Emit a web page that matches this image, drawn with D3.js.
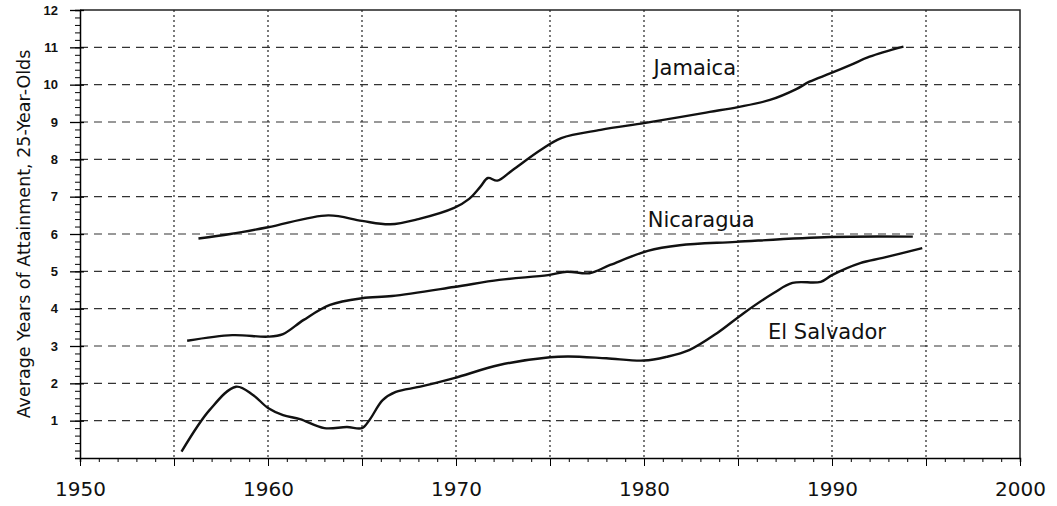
<!DOCTYPE html>
<html lang="en">
<head>
<meta charset="UTF-8">
<script src="https://d3js.org/d3.v7.min.js"></script>
<title>Years of attainment</title>
<style>
  body { margin: 0; background: #fff; }
  .ylab { font: bold 13px "Liberation Sans Narrow", "Liberation Sans", sans-serif; }
  .xlab { font: 20px "DejaVu Sans", sans-serif; }
  .series { font: 21px "DejaVu Sans", sans-serif; }
  .ytitle { font: 17.5px "DejaVu Sans", sans-serif; }
</style>
</head>
<body>
<script>
  var width = 1057, height = 506;

  // tick values
  var yearTicks = [1950, 1960, 1970, 1980, 1990, 2000];
  var gridYears = [1955, 1960, 1965, 1970, 1975, 1980, 1985, 1990, 1995];
  var valueTicks = [1, 2, 3, 4, 5, 6, 7, 8, 9, 10, 11, 12];

  // series
  var jamaicaYears = [1956.3, 1958, 1960, 1963.2, 1965, 1966.5, 1968, 1969.9, 1970.7, 1971.3, 1971.7, 1972.2, 1973, 1974.5, 1975.6, 1977.7, 1980, 1981.9, 1983.5, 1985, 1986.7, 1988.1, 1988.8, 1989.9, 1991, 1992, 1993.8];
  var jamaicaValues = [5.88, 6.0, 6.18, 6.5, 6.35, 6.26, 6.4, 6.7, 6.94, 7.27, 7.5, 7.43, 7.71, 8.25, 8.57, 8.79, 8.97, 9.13, 9.27, 9.4, 9.59, 9.88, 10.08, 10.3, 10.53, 10.75, 11.02];

  var nicaraguaYears = [1955.7, 1958.1, 1960, 1960.8, 1961.9, 1963.3, 1965, 1966.6, 1969.9, 1972.3, 1974.9, 1975.9, 1977.1, 1978.2, 1980.2, 1981.9, 1984.9, 1989.9, 1994.3];
  var nicaraguaValues = [3.14, 3.29, 3.25, 3.32, 3.7, 4.1, 4.28, 4.34, 4.58, 4.77, 4.9, 4.99, 4.95, 5.17, 5.55, 5.7, 5.79, 5.92, 5.93];

  var salvadorYears = [1955.4, 1956.9, 1958.3, 1959.2, 1960, 1960.8, 1961.7, 1963, 1964.2, 1965, 1965.4, 1966.1, 1966.8, 1968.1, 1969.9, 1972.3, 1975, 1976, 1978, 1980, 1981.2, 1982.4, 1983.9, 1985.3, 1986.9, 1987.9, 1989.4, 1990, 1991.5, 1992.7, 1994.8];
  var salvadorValues = [0.17, 1.29, 1.91, 1.69, 1.34, 1.15, 1.04, 0.8, 0.83, 0.8, 1.02, 1.55, 1.77, 1.91, 2.14, 2.49, 2.7, 2.72, 2.67, 2.61, 2.71, 2.89, 3.35, 3.88, 4.42, 4.69, 4.72, 4.9, 5.22, 5.36, 5.62];

  var seriesNames = ["Jamaica", "Nicaragua", "El Salvador"];
  var labelAt = [[1980.5, 10.26], [1980.2, 6.19], [1986.6, 3.19]];

  var series = [
    d3.zip(jamaicaYears, jamaicaValues),
    d3.zip(nicaraguaYears, nicaraguaValues),
    d3.zip(salvadorYears, salvadorValues)
  ];

  var x = d3.scaleLinear().domain([1950, 2000]).range([80, 1020]);
  var y = d3.scaleLinear().domain([0, 12]).range([458, 10]);

  var svg = d3.select("body").append("svg")
    .attr("width", width)
    .attr("height", height);

  // horizontal dashed grid
  svg.append("g").selectAll("line")
    .data(valueTicks.filter(function (v) { return v < 12; }))
    .enter().append("line")
    .attr("x1", x(1950)).attr("x2", x(2000))
    .attr("y1", function (d) { return y(d); })
    .attr("y2", function (d) { return y(d); })
    .attr("stroke", "#333").attr("stroke-width", 1.2)
    .attr("stroke-dasharray", "8,6");

  // vertical dotted grid
  svg.append("g").selectAll("line")
    .data(gridYears)
    .enter().append("line")
    .attr("x1", function (d) { return x(d); })
    .attr("x2", function (d) { return x(d); })
    .attr("y1", y(12)).attr("y2", y(0))
    .attr("stroke", "#222").attr("stroke-width", 1.2)
    .attr("stroke-dasharray", "2,3");

  // frame (top and right)
  svg.append("path")
    .attr("d", "M" + x(1950) + "," + y(12) + "H" + x(2000) + "V" + y(0))
    .attr("fill", "none").attr("stroke", "#222").attr("stroke-width", 1.5);

  // y axis with minor ticks
  svg.append("g")
    .attr("transform", "translate(" + x(1950) + ",0)")
    .call(d3.axisLeft(y).tickValues(d3.range(0, 12.01, 0.2)).tickSize(5).tickFormat(""))
    .call(function (g) { g.select(".domain").attr("stroke-width", 1.5); });
  svg.append("g")
    .attr("transform", "translate(" + (x(1950) + 4) + ",0)")
    .call(d3.axisLeft(y).tickValues(valueTicks).tickSize(14).tickPadding(12))
    .call(function (g) {
      g.select(".domain").remove();
      g.selectAll("text").attr("class", "ylab").attr("fill", "#111");
      g.selectAll("line").attr("stroke-width", 1.3);
    });

  // x axis with minor ticks
  svg.append("g")
    .attr("transform", "translate(0," + y(0) + ")")
    .call(d3.axisBottom(x).tickValues(d3.range(1950, 2001, 1)).tickSize(4).tickFormat(""))
    .call(function (g) { g.select(".domain").attr("stroke-width", 1.5); });
  svg.append("g")
    .attr("transform", "translate(0," + y(0) + ")")
    .call(d3.axisBottom(x).tickValues(d3.range(1950, 2001, 5)).tickSize(8).tickPadding(16)
      .tickFormat(function (d) { return yearTicks.indexOf(d) >= 0 ? d : ""; }))
    .call(function (g) {
      g.select(".domain").remove();
      g.selectAll("text").attr("class", "xlab").attr("fill", "#111");
    });

  // y axis title
  svg.append("text")
    .attr("class", "ytitle")
    .attr("text-anchor", "middle")
    .attr("transform", "translate(30," + ((y(0) + y(12)) / 2) + ") rotate(-90)")
    .attr("fill", "#111")
    .text("Average Years of Attainment, 25-Year-Olds");

  // series lines
  var line = d3.line()
    .x(function (d) { return x(d[0]); })
    .y(function (d) { return y(d[1]); })
    .curve(d3.curveCatmullRom.alpha(0.5));

  svg.append("g").selectAll("path")
    .data(series)
    .enter().append("path")
    .attr("d", line)
    .attr("fill", "none")
    .attr("stroke", "#111")
    .attr("stroke-width", 2.4);

  // series labels
  svg.append("g").selectAll("text")
    .data(seriesNames)
    .enter().append("text")
    .attr("class", "series")
    .attr("x", function (d, i) { return x(labelAt[i][0]); })
    .attr("y", function (d, i) { return y(labelAt[i][1]); })
    .attr("fill", "#111")
    .text(function (d) { return d; });
</script>
</body>
</html>
